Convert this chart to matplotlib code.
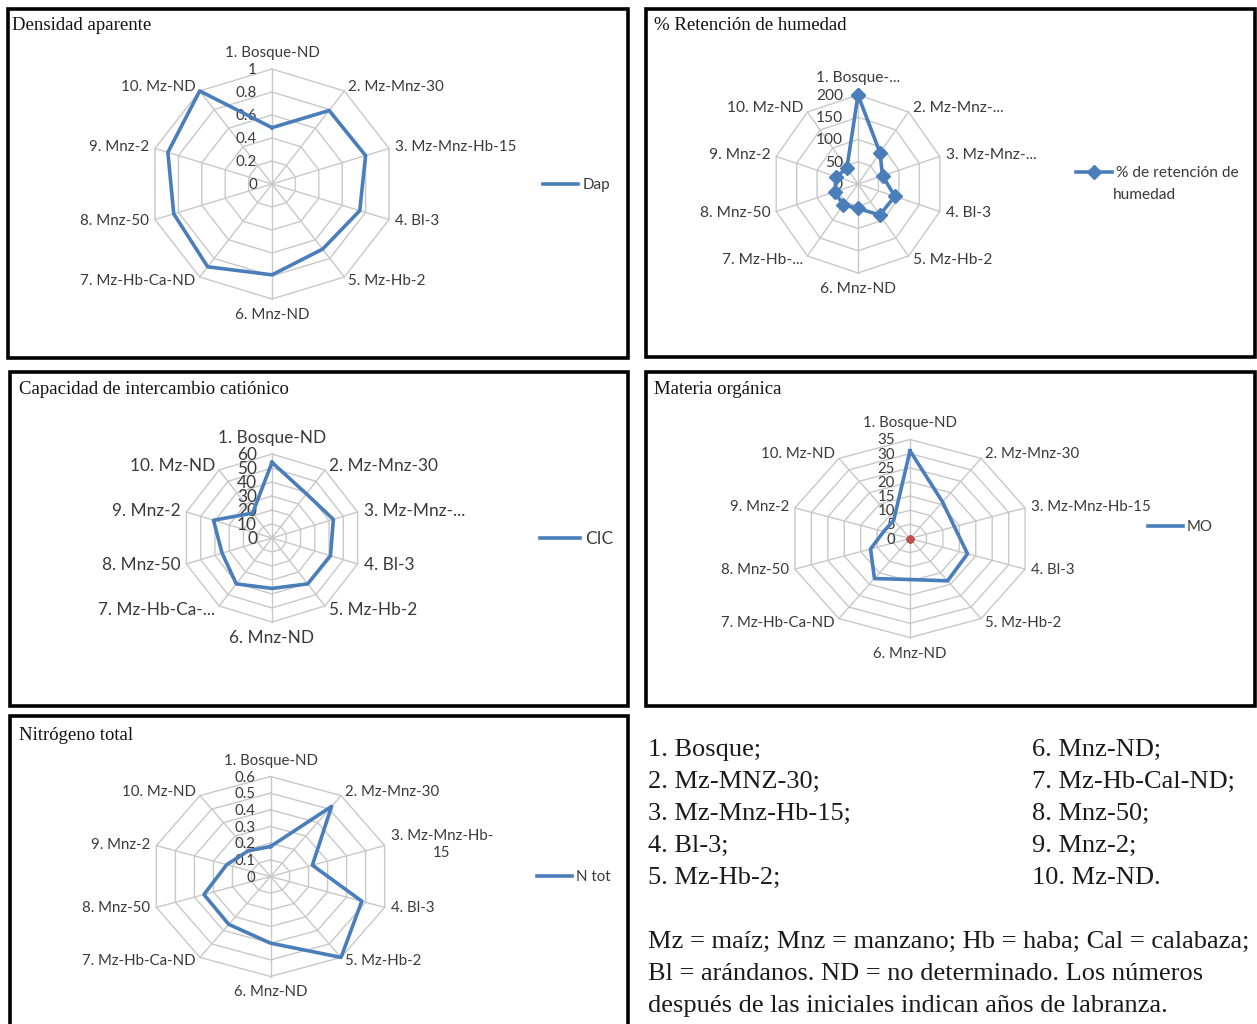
import numpy as np
import matplotlib
matplotlib.use('Agg')
import matplotlib.pyplot as plt
from matplotlib.patches import Rectangle

W, H = 1257, 1024

# ---------------- data ----------------
labels_full = ['1. Bosque-ND', '2. Mz-Mnz-30', '3. Mz-Mnz-Hb-15', '4. Bl-3', '5. Mz-Hb-2',
               '6. Mnz-ND', '7. Mz-Hb-Ca-ND', '8. Mnz-50', '9. Mnz-2', '10. Mz-ND']
labels_hum = ['1. Bosque-...', '2. Mz-Mnz-...', '3. Mz-Mnz-...', '4. Bl-3', '5. Mz-Hb-2',
              '6. Mnz-ND', '7. Mz-Hb-...', '8. Mnz-50', '9. Mnz-2', '10. Mz-ND']
labels_cic = ['1. Bosque-ND', '2. Mz-Mnz-30', '3. Mz-Mnz-...', '4. Bl-3', '5. Mz-Hb-2',
              '6. Mnz-ND', '7. Mz-Hb-Ca-...', '8. Mnz-50', '9. Mnz-2', '10. Mz-ND']
labels_n = ['1. Bosque-ND', '2. Mz-Mnz-30', '3. Mz-Mnz-Hb-\n15', '4. Bl-3', '5. Mz-Hb-2',
            '6. Mnz-ND', '7. Mz-Hb-Ca-ND', '8. Mnz-50', '9. Mnz-2', '10. Mz-ND']

dap = [0.49, 0.79, 0.80, 0.75, 0.70, 0.79, 0.89, 0.84, 0.89, 1.0]
hum = [200, 87, 60, 90, 86, 55, 58, 57, 53, 44]
cic = [54, 39, 43, 41, 40.5, 36, 40.5, 35, 41, 22]
mo = [31, 16, 13.5, 17.5, 18.5, 14.5, 17.5, 12, 8, 8]
mo_zero = [0, 0, 0, 0, 0, 0, 0, 0, 0, 0]
ntot = [0.18, 0.52, 0.22, 0.48, 0.60, 0.40, 0.355, 0.35, 0.23, 0.19]

dap_ticks = [0, 0.2, 0.4, 0.6, 0.8, 1.0]
dap_ticklabels = ['0', '0.2', '0.4', '0.6', '0.8', '1']
hum_ticks = [0, 50, 100, 150, 200]
hum_ticklabels = ['0', '50', '100', '150', '200']
cic_ticks = [0, 10, 20, 30, 40, 50, 60]
cic_ticklabels = ['0', '10', '20', '30', '40', '50', '60']
mo_ticks = [0, 5, 10, 15, 20, 25, 30, 35]
mo_ticklabels = ['0', '5', '10', '15', '20', '25', '30', '35']
n_ticks = [0, 0.1, 0.2, 0.3, 0.4, 0.5, 0.6]
n_ticklabels = ['0', '0.1', '0.2', '0.3', '0.4', '0.5', '0.6']

titles = ['Densidad aparente', '% Retención de humedad', 'Capacidad de intercambio catiónico',
          'Materia orgánica', 'Nitrógeno total']

notes_col1 = ['1. Bosque;', '2. Mz-MNZ-30;', '3. Mz-Mnz-Hb-15;', '4. Bl-3;', '5. Mz-Hb-2;']
notes_col2 = ['6. Mnz-ND;', '7. Mz-Hb-Cal-ND;', '8. Mnz-50;', '9. Mnz-2;', '10. Mz-ND.']
notes_bottom = ['Mz = maíz; Mnz = manzano; Hb = haba; Cal = calabaza;',
                'Bl = arándanos. ND = no determinado. Los números',
                'después de las iniciales indican años de labranza.']

# ---------------- style ----------------
BLUE = '#4A7EBB'
GRID = '#C8C8C8'
TXT = '#3A3A3A'
SANS = ['Lato', 'DejaVu Sans']
SERIF = ['Liberation Serif', 'DejaVu Serif']

fig = plt.figure(figsize=(W / 100, H / 100), dpi=100)
fig.patch.set_facecolor('white')


def fx(px):
    return px / W


def fy(py):
    return 1 - py / H


def radar(cx, cy, rx, ry, ticks, ticklabels, labels, values, fs, marker=None,
          top_off=16, bot_off=16):
    ax = fig.add_axes([fx(cx - rx), fy(cy + ry), 2 * rx / W, 2 * ry / H], projection='polar')
    ax.set_aspect('auto')
    ax.set_theta_zero_location('N')
    ax.set_theta_direction(-1)
    rmax = ticks[-1]
    ax.set_ylim(0, rmax)
    ax.grid(False)
    ax.set_xticks([])
    ax.set_yticks([])
    ax.spines['polar'].set_visible(False)
    ax.patch.set_alpha(0)
    n = len(labels)
    th = np.arange(n) * 2 * np.pi / n
    thc = np.append(th, th[0])
    for t in ticks[1:]:
        ax.plot(thc, [t] * (n + 1), color=GRID, lw=1.0, clip_on=False, zorder=1)
    for a in th:
        ax.plot([a, a], [0, rmax], color=GRID, lw=1.0, clip_on=False, zorder=1)
    vals = list(values) + [values[0]]
    line, = ax.plot(thc, vals, color=BLUE, lw=2.6, clip_on=False, zorder=3,
                    marker=marker, markersize=7 if marker else 0,
                    markerfacecolor=BLUE, markeredgecolor=BLUE)
    for t, tl in zip(ticks, ticklabels):
        ax.annotate(tl, xy=(0, t), xytext=(-15, -1), textcoords='offset pixels',
                    ha='right', va='center', fontsize=fs, color=TXT, family=SANS,
                    annotation_clip=False, zorder=2)
    for a, lab in zip(th, labels):
        s, c = np.sin(a), np.cos(a)
        if abs(s) < 0.01:
            ha = 'center'
            dx = 0
            dy = top_off if c > 0 else -bot_off
        else:
            ha = 'left' if s > 0 else 'right'
            dx = (4 if abs(s) < 0.7 else 6) * np.sign(s)
            if c > 0.5:
                dy = 4
            elif c > 0:
                dy = 1
            elif c > -0.5:
                dy = -1
            else:
                dy = -4
        ax.annotate(lab, xy=(a, rmax), xytext=(dx, dy), textcoords='offset pixels',
                    ha=ha, va='center', fontsize=fs, color=TXT, family=SANS,
                    multialignment='center', annotation_clip=False)
    return ax, line


def legend(line, label, x, y, fs):
    fig.legend([line], [label], loc='center left', bbox_to_anchor=(fx(x), fy(y)),
               frameon=False, borderpad=0, borderaxespad=0, handlelength=2.3,
               handletextpad=0.3, prop={'family': SANS, 'size': fs},
               labelcolor=TXT)


# panel frames
frames = [(8, 9, 628, 358), (646, 9, 1255, 357), (10, 372, 628, 706),
          (646, 372, 1255, 706), (10, 716, 628, 1030)]
for (x0, y0, x1, y1) in frames:
    fig.add_artist(Rectangle((fx(x0), fy(y1)), fx(x1 - x0), (y1 - y0) / H,
                             transform=fig.transFigure, fill=False, ec='black', lw=2.6))

title_pos = [(12, 25), (654, 25), (19, 389), (654, 389), (19, 736)]
for t, (x, y) in zip(titles, title_pos):
    fig.text(fx(x), fy(y), t, ha='left', va='center', fontsize=13.5, family=SERIF, color='#111111')

# panel 1
ax1, l1 = radar(272, 184, 123, 115, dap_ticks, dap_ticklabels, labels_full, dap, 10.9)
legend(l1, 'Dap', 543, 185, 10.9)

# panel 2
ax2, l2 = radar(858, 184, 86, 89, hum_ticks, hum_ticklabels, labels_hum, hum, 11.2,
                marker='D', top_off=17)
legend(l2, '% de retención de', 1076, 173, 11.2)
fig.text(fx(1113), fy(195), 'humedad', ha='left', va='center', fontsize=11.2,
         family=SANS, color=TXT)

# panel 3
ax3, l3 = radar(272, 538, 90, 84, cic_ticks, cic_ticklabels, labels_cic, cic, 12.4)
legend(l3, 'CIC', 540, 539, 12.4)

# panel 4
ax4, l4 = radar(910, 538.5, 121, 99, mo_ticks, mo_ticklabels, labels_full, mo, 10.8)
n = len(mo_zero)
th = np.arange(n) * 2 * np.pi / n
ax4.plot(th, mo_zero, linestyle='none', marker='o', markersize=4.5, color='#C0504D', zorder=4)
legend(l4, 'MO', 1148, 527, 10.8)

# panel 5
ax5, l5 = radar(270.5, 876.5, 120, 100, n_ticks, n_ticklabels, labels_n, ntot, 10.8)
legend(l5, 'N tot', 537, 877, 10.8)

# notes
NFS = 19
ys = [750, 782, 814, 846, 878]
for t, y in zip(notes_col1, ys):
    fig.text(fx(648), fy(y), t, ha='left', va='center', fontsize=NFS, family=SERIF, color='#1a1a1a')
for t, y in zip(notes_col2, ys):
    fig.text(fx(1032), fy(y), t, ha='left', va='center', fontsize=NFS, family=SERIF, color='#1a1a1a')
for t, y in zip(notes_bottom, [942, 974, 1006]):
    fig.text(fx(648), fy(y), t, ha='left', va='center', fontsize=NFS, family=SERIF, color='#1a1a1a')

fig.savefig('out.png', dpi=100)
